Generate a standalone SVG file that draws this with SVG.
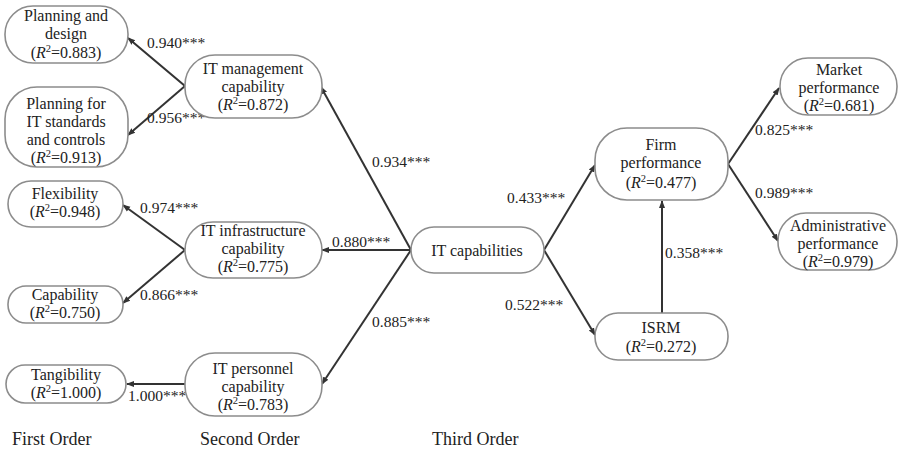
<svg xmlns="http://www.w3.org/2000/svg" width="899" height="450" viewBox="0 0 899 450">
<defs>
<marker id="ah" markerUnits="userSpaceOnUse" markerWidth="8" markerHeight="8" viewBox="0 0 8 8" refX="7" refY="4" orient="auto">
<path d="M0,1 L8,4 L0,7 Z" fill="#333"/>
</marker>
<style>
.n rect{fill:#fff;stroke:#8c8c8c;stroke-width:1.6}
.n text,.lab,.ord{font-family:"Liberation Serif","Times New Roman",serif;fill:#222}
.n text{font-size:16px;text-anchor:middle}
.lab{font-size:15.5px}
.ord{font-size:18px}
.i{font-style:italic}
.s{font-size:10.5px}
#connectors line{stroke:#333;stroke-width:2;marker-end:url(#ah)}
</style>
</defs>
<rect width="899" height="450" fill="#fff"/>
<g id="connectors">
<line x1="185" y1="86" x2="128" y2="38"/>
<line x1="185" y1="86" x2="128" y2="135"/>
<line x1="185" y1="250" x2="123" y2="205"/>
<line x1="185" y1="250" x2="123" y2="303"/>
<line x1="185" y1="384" x2="127" y2="384"/>
<line x1="411" y1="250" x2="321" y2="87"/>
<line x1="411" y1="250" x2="322" y2="250"/>
<line x1="411" y1="250" x2="322" y2="384"/>
<line x1="544" y1="250" x2="595" y2="165"/>
<line x1="544" y1="250" x2="595" y2="335"/>
<line x1="662" y1="313" x2="662" y2="201"/>
<line x1="728" y1="164" x2="779" y2="88"/>
<line x1="728" y1="164" x2="778" y2="241"/>
</g>
<g id="labels">
<text class="lab" x="147" y="48">0.940***</text>
<text class="lab" x="147" y="123">0.956***</text>
<text class="lab" x="140" y="213">0.974***</text>
<text class="lab" x="140" y="300">0.866***</text>
<text class="lab" x="128" y="401">1.000***</text>
<text class="lab" x="372" y="167">0.934***</text>
<text class="lab" x="332" y="247">0.880***</text>
<text class="lab" x="372" y="327">0.885***</text>
<text class="lab" x="507" y="203">0.433***</text>
<text class="lab" x="505" y="310">0.522***</text>
<text class="lab" x="665" y="258">0.358***</text>
<text class="lab" x="755" y="135">0.825***</text>
<text class="lab" x="755" y="198">0.989***</text>
</g>
<g id="pd" class="n"><rect x="5" y="6" width="123" height="57" rx="28"/>
<text x="66" y="21">Planning and</text><text x="66" y="39">design</text>
<text x="66" y="58">(<tspan class="i">R</tspan><tspan class="s" dy="-6">2</tspan><tspan dy="6">=0.883)</tspan></text></g>
<g id="pit" class="n"><rect x="5" y="87" width="123" height="80" rx="32"/>
<text x="66" y="109">Planning for</text><text x="66" y="127">IT standards</text><text x="66" y="145">and controls</text>
<text x="66" y="163">(<tspan class="i">R</tspan><tspan class="s" dy="-6">2</tspan><tspan dy="6">=0.913)</tspan></text></g>
<g id="flex" class="n"><rect x="8" y="181" width="115" height="46" rx="23"/>
<text x="65" y="199">Flexibility</text>
<text x="65" y="217">(<tspan class="i">R</tspan><tspan class="s" dy="-6">2</tspan><tspan dy="6">=0.948)</tspan></text></g>
<g id="cap" class="n"><rect x="8" y="286" width="115" height="37" rx="18"/>
<text x="65" y="300">Capability</text>
<text x="65" y="318">(<tspan class="i">R</tspan><tspan class="s" dy="-6">2</tspan><tspan dy="6">=0.750)</tspan></text></g>
<g id="tang" class="n"><rect x="6" y="365" width="120" height="38" rx="19"/>
<text x="66" y="380">Tangibility</text>
<text x="66" y="398">(<tspan class="i">R</tspan><tspan class="s" dy="-6">2</tspan><tspan dy="6">=1.000)</tspan></text></g>
<g id="itm" class="n"><rect x="185" y="55" width="137" height="63" rx="30"/>
<text x="253" y="74">IT management</text><text x="253" y="92">capability</text>
<text x="253" y="110">(<tspan class="i">R</tspan><tspan class="s" dy="-6">2</tspan><tspan dy="6">=0.872)</tspan></text></g>
<g id="iti" class="n"><rect x="185" y="222" width="137" height="56" rx="28"/>
<text x="253" y="236">IT infrastructure</text><text x="253" y="254">capability</text>
<text x="253" y="272">(<tspan class="i">R</tspan><tspan class="s" dy="-6">2</tspan><tspan dy="6">=0.775)</tspan></text></g>
<g id="itp" class="n"><rect x="185" y="353" width="137" height="63" rx="30"/>
<text x="253" y="374">IT personnel</text><text x="253" y="392">capability</text>
<text x="253" y="410">(<tspan class="i">R</tspan><tspan class="s" dy="-6">2</tspan><tspan dy="6">=0.783)</tspan></text></g>
<g id="itc" class="n"><rect x="411" y="227" width="133" height="46" rx="23"/>
<text x="477" y="256">IT capabilities</text></g>
<g id="firm" class="n"><rect x="595" y="128" width="133" height="72" rx="32"/>
<text x="661" y="150">Firm</text><text x="661" y="168">performance</text>
<text x="661" y="188">(<tspan class="i">R</tspan><tspan class="s" dy="-6">2</tspan><tspan dy="6">=0.477)</tspan></text></g>
<g id="isrm" class="n"><rect x="595" y="313" width="133" height="47" rx="23"/>
<text x="661" y="333">ISRM</text>
<text x="661" y="352">(<tspan class="i">R</tspan><tspan class="s" dy="-6">2</tspan><tspan dy="6">=0.272)</tspan></text></g>
<g id="mkt" class="n"><rect x="780" y="58" width="117" height="57" rx="28"/>
<text x="839" y="75">Market</text><text x="839" y="93">performance</text>
<text x="839" y="111">(<tspan class="i">R</tspan><tspan class="s" dy="-6">2</tspan><tspan dy="6">=0.681)</tspan></text></g>
<g id="adm" class="n"><rect x="778" y="213" width="119" height="57" rx="28"/>
<text x="838" y="231">Administrative</text><text x="838" y="249">performance</text>
<text x="838" y="267">(<tspan class="i">R</tspan><tspan class="s" dy="-6">2</tspan><tspan dy="6">=0.979)</tspan></text></g>
<g id="orders">
<text class="ord" x="12" y="445">First Order</text>
<text class="ord" x="200" y="445">Second Order</text>
<text class="ord" x="432" y="445">Third Order</text>
</g>
</svg>
